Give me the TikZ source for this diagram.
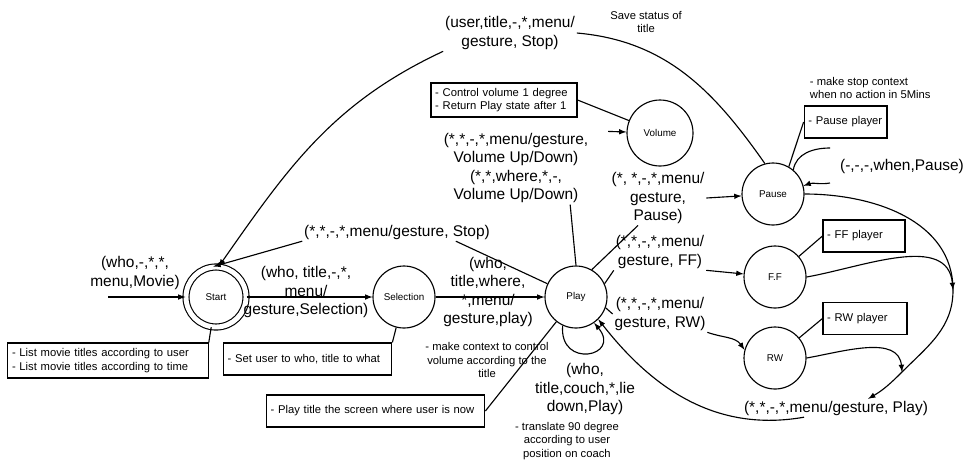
\documentclass[tikz,border=0pt]{standalone}
\usepackage{fontspec}
\setmainfont{Liberation Sans}
\usetikzlibrary{calc}

\tikzset{
  mstate/.style={draw,circle,minimum size=1.55cm,inner sep=0pt,font=\fontsize{7}{8}\selectfont},
  lbl/.style={align=center,inner sep=1pt,font=\fontsize{11}{13}\selectfont},
  remark/.style={align=center,inner sep=1pt,font=\fontsize{8}{9.5}\selectfont},
  memo/.style={draw,align=left,inner xsep=3pt,inner ysep=2pt,minimum height=0.8cm,font=\fontsize{8}{9.5}\selectfont},
  trans/.style={-latex},
}

\begin{document}
\begin{tikzpicture}[line width=0.8pt]
\useasboundingbox (0,0) rectangle (24.2,-11.65);
% states
\node[mstate,double,double distance=3.5pt,minimum size=1.5cm](Start)at(5.4,-7.425){Start};
\node[mstate](Selection)at(10.1,-7.425){Selection};
\node[mstate](Play)at(14.4,-7.425){Play};
\node[mstate,minimum size=1.65cm](Volume)at(16.5,-3.325){Volume};
\node[mstate](Pause)at(19.325,-4.85){Pause};
\node[mstate](FF)at(19.375,-6.925){F.F};
\node[mstate](RW)at(19.375,-8.95){RW};

% transition labels
\node[lbl](movielbl)at(3.375,-6.825){(who,-,*,*,\\menu,Movie)};
\node[lbl](sellbl)at(7.65,-7.3){(who, title,-,*,\\menu/\\gesture,Selection)};
\node[lbl](playlbl)at(12.2,-7.3){(who,\\title,where,\\*,menu/\\gesture,play)};
\node[lbl](stoplbl)at(9.925,-5.8){(*,*,-,*,menu/gesture, Stop)};
\node[lbl](userlbl)at(12.75,-0.825){(user,title,-,*,menu/\\gesture, Stop)};
\node[lbl](vollbl)at(12.9,-4.2){(*,*,-,*,menu/gesture,\\Volume Up/Down)\\(*,*,where,*,-,\\Volume Up/Down)};
\node[lbl](pauselbl)at(16.45,-4.95){(*, *,-,*,menu/\\gesture,\\Pause)};
\node[lbl](fflbl)at(16.5,-6.3){(*,*,-,*,menu/\\gesture, FF)};
\node[lbl](rwlbl)at(16.5,-7.85){(*,*,-,*,menu/\\gesture, RW)};
\node[lbl](couchlbl)at(14.625,-9.725){(who,\\title,couch,*,lie\\down,Play)};
\node[lbl](whenlbl)at(22.55,-4.15){(-,-,-,when,Pause)};
\node[lbl](backlbl)at(20.9,-10.2){(*,*,-,*,menu/gesture, Play)};

% remarks and boxes
\node[remark](savetxt)at(16.15,-0.55){Save status of\\title};
\node[remark,align=left,anchor=west](stoptxt)at(20.2,-2.2){- make stop context\\when no action in 5Mins};
\node[remark](maketxt)at(12.175,-9.0){- make context to control\\volume according to the\\title};
\node[remark](turntxt)at(14.175,-11.025){- translate 90 degree\\according to user\\position on coach};
\node[memo,text width=4.8cm,minimum height=0.875cm](listbox)at(2.7,-9.0125){- List movie titles according to user\\- List movie titles according to time};
\node[memo,text width=4.0cm](setbox)at(7.69,-8.975){- Set user to who, title to what};
\node[memo,text width=5.25cm](playbox)at(9.39,-10.275){- Play title the screen where user is now};
\node[memo,text width=3.44cm,minimum height=0.85cm](volbox)at(12.6,-2.5){- Control volume 1 degree\\- Return Play state after 1};
\node[memo,text width=1.86cm](pausebox)at(21.14,-3.05){- Pause player};
\node[memo,text width=1.84cm](ffbox)at(21.6,-5.9){- FF player};
\node[memo,text width=1.89cm](rwbox)at(21.625,-7.9625){- RW player};

\coordinate(startin)at(2.7,-7.425);
\coordinate(mergeff)at(23.825,-7.25);
\coordinate(mergerw)at(22.55,-9.3);
\coordinate(loopa)at(20.75,-3.7);
\coordinate(loopb)at(20.75,-4.575);

% main line
\draw[trans](startin)--(Start);
\draw[trans](Start)--(Selection);
\draw[trans](Selection)--(Play);
% back to Start
\draw(Play)--($(stoplbl.south east)+(-0.9,0)$);
\draw[trans](stoplbl.south west)--(Start.95);
\draw(Pause.105)to[out=125,in=-5](userlbl.east);
\draw[trans](userlbl.south west)to[out=205,in=55](Start.85);
% Play to Volume, Pause, F.F, RW
\draw(Play.north)--($(vollbl.south east)+(-0.5,0)$);
\draw[trans]([xshift=0.45cm]vollbl.north east)--(Volume);
\draw(Play.60)--([xshift=-0.5cm]pauselbl.south);
\draw[trans](pauselbl.east)--(Pause);
\draw(Play.25)--(fflbl.south west);
\draw[trans](fflbl.south east)--(FF);
\draw(Play.-20)--(rwlbl.west);
\draw[trans](rwlbl.south east)to[out=-20,in=125](RW.165);
\draw[trans](Play.-115)..controls +(-95:1.1) and +(-50:1.1)..(Play.-55);
% Pause loop
\draw(Pause.50)to[out=80,in=180](loopa);
\draw[trans](loopb)to[out=190,in=20](Pause.15);
% back to Play
\draw(Pause.east)to[out=0,in=90](mergeff);
\draw[trans](FF.east)to[out=10,in=95](mergeff);
\draw(mergeff)to[out=-90,in=45](mergerw);
\draw[trans](RW.east)to[out=10,in=95](mergerw);
\draw[trans](mergerw)to[out=225,in=30]([xshift=0.8cm]backlbl.north);
\draw[trans]([xshift=-0.8cm]backlbl.south)to[out=190,in=-52](Play.-45);
% notes
\draw(Start)--(listbox.north east);
\draw(Selection)--(setbox.north east);
\draw(playbox.east)--(Play);
\draw(volbox.east)--(Volume);
\draw(Pause.60)--(pausebox.west);
\draw(FF)--(ffbox.west);
\draw(RW)--(rwbox.west);
\end{tikzpicture}
\end{document}
